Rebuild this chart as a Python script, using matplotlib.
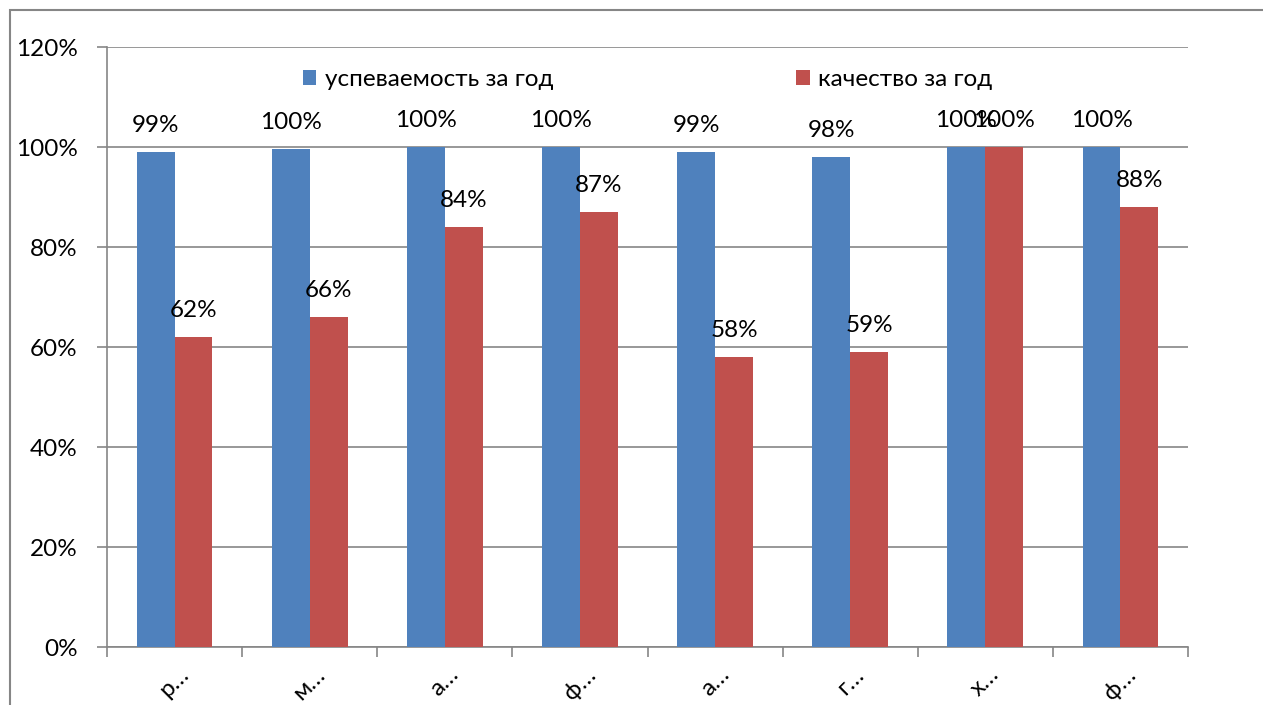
import numpy as np
import matplotlib.pyplot as plt
from matplotlib.patches import Rectangle

categories = ['р…', 'м…', 'а…', 'ф…', 'а…', 'г…', 'х…', 'ф…']
uspev = [99, 99.6, 100, 100, 99, 98, 100, 100]
uspev_labels = ['99%', '100%', '100%', '100%', '99%', '98%', '100%', '100%']
kach = [62, 66, 84, 87, 58, 59, 100, 88]
kach_labels = ['62%', '66%', '84%', '87%', '58%', '59%', '100%', '88%']

blue = '#4f81bd'
red = '#c0504d'
grey = '#868686'

plt.rcParams['font.family'] = ['Lato', 'DejaVu Sans']
fs = 17.5

fig = plt.figure(figsize=(12.63, 7.05), dpi=100)
ax = fig.add_axes([107/1263, 58/705, (1188-107)/1263, 600/705])

# outer chart frame (cut off at right and bottom)
fig.patches.append(Rectangle((10/1263, -0.1), 1.2, (695/705) + 0.1, transform=fig.transFigure,
                             fill=False, edgecolor=grey, linewidth=1.5))

x = np.arange(len(categories))
w = 0.28
b1 = ax.bar(x - w/2, uspev, w, color=blue, label='успеваемость за год', zorder=3)
b2 = ax.bar(x + w/2, kach, w, color=red, label='качество за год', zorder=3)

for bars, labs in ((b1, uspev_labels), (b2, kach_labels)):
    for r, lab in zip(bars, labs):
        ax.annotate(lab, (r.get_x() + r.get_width()/2, r.get_height()),
                    xytext=(0, 19), textcoords='offset points',
                    ha='center', va='center', fontsize=fs)

ax.set_xlim(-0.5, 7.5)
ax.set_ylim(0, 120)
ax.set_yticks(np.arange(0, 121, 20))
ax.set_yticklabels([f'{v}%' for v in range(0, 121, 20)], fontsize=fs)
ax.yaxis.grid(True, color=grey, linewidth=1.2, zorder=0)

ax.set_xticks(x)
ax.set_xticklabels(categories, rotation=45, fontsize=fs)
ax.tick_params(axis='x', length=0, pad=12)
ax.set_xticks(np.arange(-0.5, 8, 1), minor=True)
ax.tick_params(axis='x', which='minor', length=7, color=grey, width=1.2)
ax.tick_params(axis='y', length=7, color=grey, width=1.2, pad=14)

for s in ('top', 'right'):
    ax.spines[s].set_visible(False)
for s in ('left', 'bottom'):
    ax.spines[s].set_color(grey)
    ax.spines[s].set_linewidth(1.2)

ax.legend(loc='upper center', bbox_to_anchor=(0.5, 1.0), ncol=2, frameon=False,
          fontsize=fs, handlelength=0.55, handleheight=0.55, handletextpad=0.35,
          columnspacing=10)

fig.savefig('out.png', dpi=100)
